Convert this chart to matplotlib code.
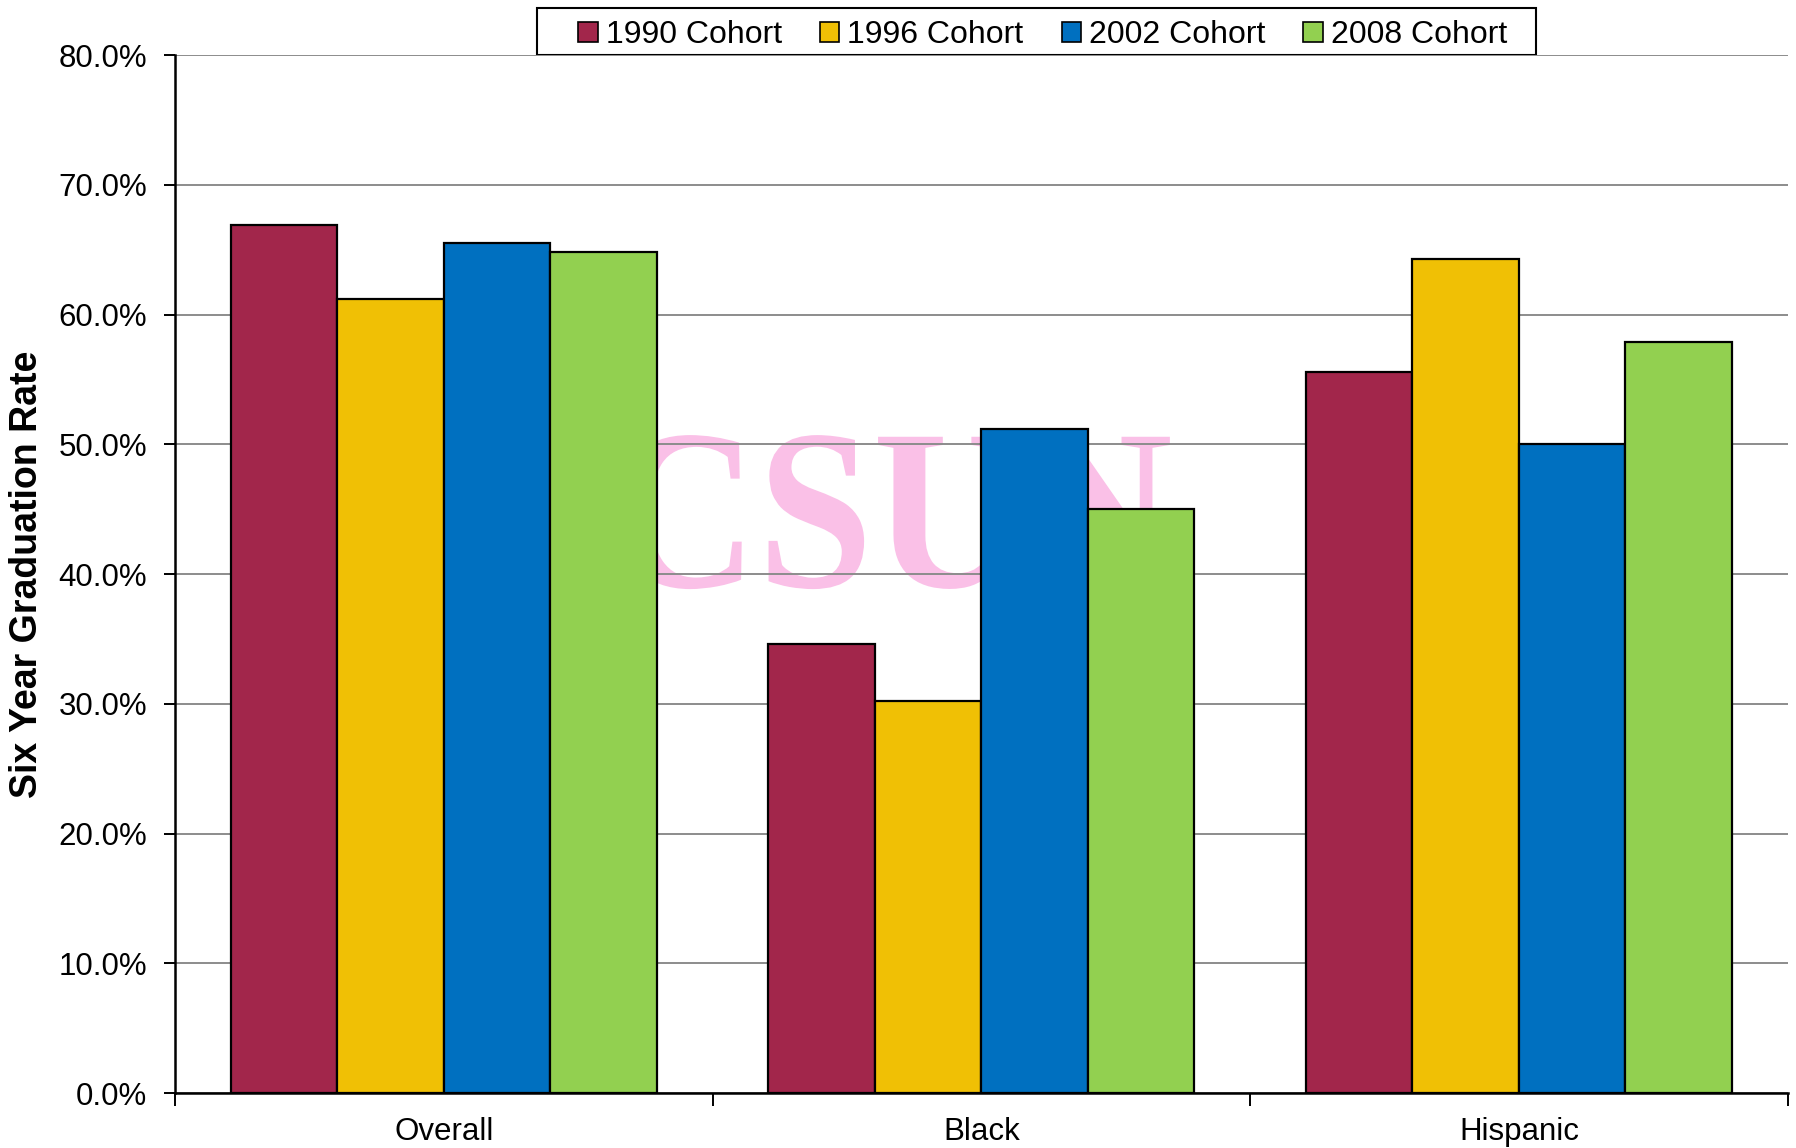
import numpy as np
import matplotlib
matplotlib.use("Agg")
import matplotlib.pyplot as plt
from matplotlib.ticker import FuncFormatter
from matplotlib.textpath import TextPath
from matplotlib.font_manager import FontProperties
from matplotlib.patches import PathPatch, Rectangle
from matplotlib.transforms import Affine2D

groups = ["Overall", "Black", "Hispanic"]
cohorts = ["1990 Cohort", "1996 Cohort", "2002 Cohort", "2008 Cohort"]
rate_1990 = [66.9, 34.6, 55.6]
rate_1996 = [61.2, 30.2, 64.3]
rate_2002 = [65.5, 51.2, 50.0]
rate_2008 = [64.8, 45.0, 57.9]
colors = ["#A2264B", "#F0C005", "#0070C0", "#92D050"]

plt.rcParams['font.family'] = ['Liberation Sans', 'DejaVu Sans']

fig = plt.figure(figsize=(17.96, 11.48), dpi=100)
ax = fig.add_axes([0.0974, 0.0479, 0.898, 0.9041])

x = np.arange(len(groups))
w = 0.198
series = [rate_1990, rate_1996, rate_2002, rate_2008]
for i, (vals, c, lab) in enumerate(zip(series, colors, cohorts)):
    ax.bar(x + (i - 1.5) * w, vals, width=w, color=c, edgecolor="black",
           linewidth=1.6, label=lab, zorder=3)

# faint watermark behind the bars, fitted into a box (axes fractions)
wm = TextPath((0, 0), "CSUN", size=1,
              prop=FontProperties(family="Liberation Serif", weight="bold"))
bb = wm.get_extents()
x0, x1, y0, y1 = 0.2746, 0.6169, 0.4855, 0.6339
fit = (Affine2D().translate(-bb.x0, -bb.y0)
       .scale((x1 - x0) / bb.width, (y1 - y0) / bb.height)
       .translate(x0, y0))
ax.add_patch(PathPatch(fit.transform_path(wm), transform=ax.transAxes,
                       facecolor="#FAC0E7", edgecolor="none", zorder=0.2))

ax.set_xlim(-0.5, 2.5)
ax.set_ylim(0, 80)
ax.set_yticks(np.arange(0, 81, 10))
ax.yaxis.set_major_formatter(FuncFormatter(lambda v, p: f"{v:.1f}%"))
ax.set_axisbelow(True)
ax.yaxis.grid(True, color="#8c8c8c", linewidth=1.4)

ax.set_xticks(x)
ax.set_xticklabels(groups)
ax.set_xticks([-0.5, 0.5, 1.5, 2.5], minor=True)
ax.tick_params(axis="x", which="major", length=0, labelsize=22.5, pad=17)
ax.tick_params(axis="x", which="minor", length=9, width=1.4, direction="out")
ax.tick_params(axis="y", length=8, width=1.4, labelsize=22.5, pad=12)

for s in ["top", "right"]:
    ax.spines[s].set_visible(False)
for s in ["left", "bottom"]:
    ax.spines[s].set_linewidth(1.8)

ax.set_ylabel("Six Year Graduation Rate", fontsize=27, fontweight="bold", labelpad=10)

leg = ax.legend(loc="lower center", bbox_to_anchor=(0.538, 0.9955), ncol=4,
                fontsize=23, frameon=False,
                handlelength=0.6, handleheight=0.6, handletextpad=0.25,
                columnspacing=1.2, borderpad=0.3, borderaxespad=0)
for h in leg.legend_handles:
    h.set_linewidth(1.2)
# wider box around the legend entries
fig.patches.append(Rectangle((0.299, 0.9521), 0.5562, 0.0409, transform=fig.transFigure,
                             facecolor="white", edgecolor="black", linewidth=1.5,
                             zorder=-1))

fig.savefig("out.png", dpi=100)
